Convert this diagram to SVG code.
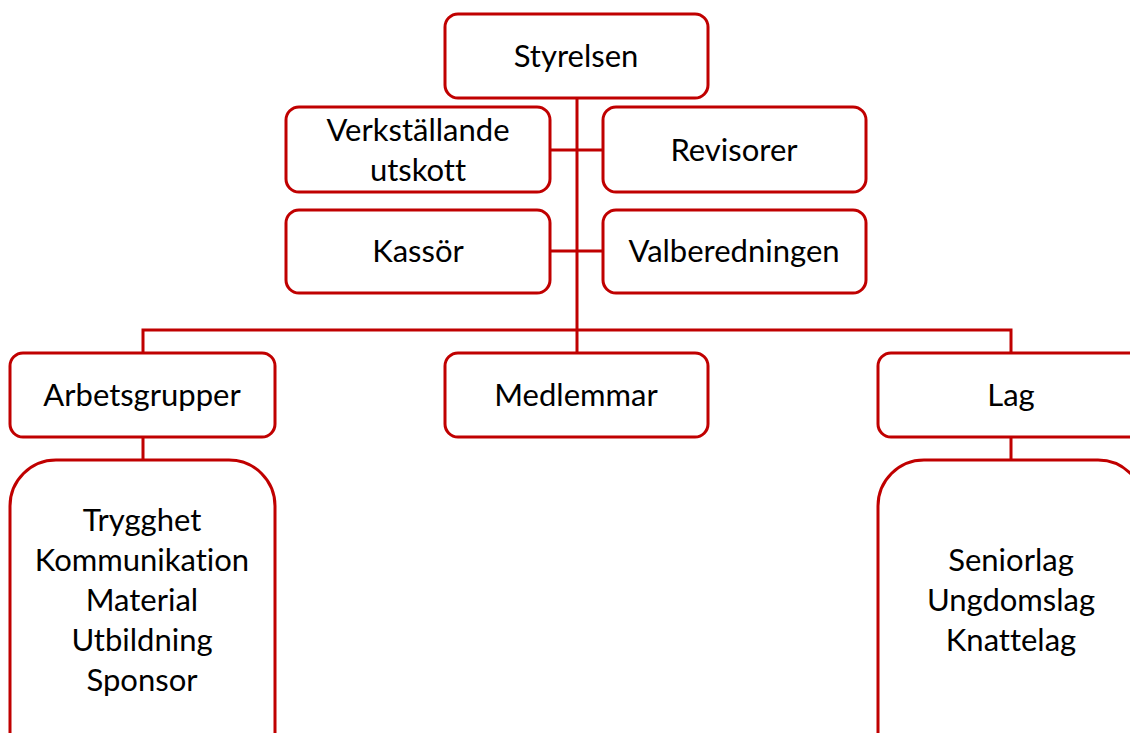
<svg xmlns="http://www.w3.org/2000/svg" width="1130" height="733" viewBox="0 0 1130 733">
<style>
.box{fill:#fff;stroke:#C00000;stroke-width:3}
.ln{fill:none;stroke:#C00000;stroke-width:3}
text{font-family:Lato,"Liberation Sans",sans-serif;font-size:31px;fill:#000;text-anchor:middle;dominant-baseline:central;font-variant-ligatures:none}
</style>
<rect width="1130" height="733" fill="#fff"/>
<g id="connectors">
<path class="ln" d="M577 98V353M550 150H603M550 251H603M143 353V330H1011V353M143 437V460M1011 437V460"/>
</g>
<g id="styrelsen"><rect class="box" x="445" y="14" width="263" height="84" rx="13"/><text x="576" y="55">Styrelsen</text></g>
<g id="verkstallande"><rect class="box" x="286" y="107" width="264" height="85" rx="13"/><text x="418" y="129">Verkställande</text><text x="418" y="169">utskott</text></g>
<g id="revisorer"><rect class="box" x="603" y="107" width="263" height="85" rx="13"/><text x="734" y="149">Revisorer</text></g>
<g id="kassor"><rect class="box" x="286" y="210" width="264" height="83" rx="13"/><text x="418" y="250">Kassör</text></g>
<g id="valberedningen"><rect class="box" x="603" y="210" width="263" height="83" rx="13"/><text x="734" y="250">Valberedningen</text></g>
<g id="arbetsgrupper"><rect class="box" x="10" y="353" width="265" height="84" rx="13"/><text x="142" y="394">Arbetsgrupper</text></g>
<g id="medlemmar"><rect class="box" x="445" y="353" width="263" height="84" rx="13"/><text x="576" y="394">Medlemmar</text></g>
<g id="lag"><rect class="box" x="878" y="353" width="266" height="84" rx="13"/><text x="1011" y="394">Lag</text></g>
<g id="arbetsgrupper-list"><rect class="box" x="10" y="460" width="265" height="320" rx="46"/><text x="142" y="519">Trygghet</text><text x="142" y="559">Kommunikation</text><text x="142" y="599">Material</text><text x="142" y="639">Utbildning</text><text x="142" y="679">Sponsor</text></g>
<g id="lag-list"><rect class="box" x="878" y="460" width="266" height="320" rx="46"/><text x="1011" y="559">Seniorlag</text><text x="1011" y="599">Ungdomslag</text><text x="1011" y="639">Knattelag</text></g>
</svg>
